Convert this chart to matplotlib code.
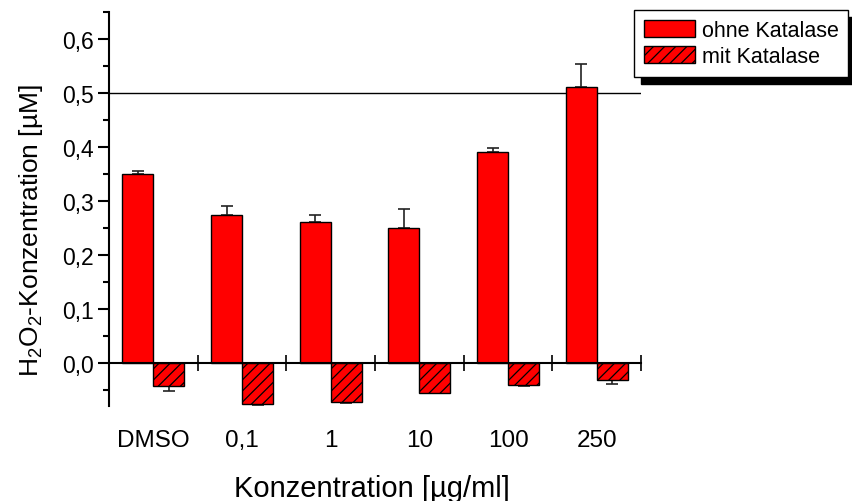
import numpy as np
import matplotlib
matplotlib.use('Agg')
import matplotlib.pyplot as plt
import matplotlib.transforms as mtransforms

plt.rcParams['font.family'] = ['Liberation Sans', 'DejaVu Sans']
plt.rcParams['mathtext.default'] = 'regular'
plt.rcParams['hatch.linewidth'] = 0.9

# Data
categories = ['DMSO', '0,1', '1', '10', '100', '250']
ohne = [0.349, 0.274, 0.261, 0.249, 0.390, 0.511]
ohne_err = [0.006, 0.017, 0.013, 0.035, 0.007, 0.043]
mit = [-0.044, -0.076, -0.074, -0.056, -0.041, -0.033]
mit_err = [0.008, 0.003, 0.001, 0.0, 0.002, 0.006]

fig = plt.figure(figsize=(8.53, 5.02), dpi=100)
ax = fig.add_axes([0.1278, 0.1892, 0.6237, 0.7849])

x = np.arange(len(categories)) + 0.5
w = 0.35

ax.bar(x - w / 2, ohne, w, color='#ff0000', edgecolor='black', linewidth=1,
       label='ohne Katalase', zorder=2)
ax.bar(x + w / 2, mit, w, color='#ff0000', edgecolor='black', linewidth=1,
       hatch='///', label='mit Katalase', zorder=2)

# one-sided error bars (Origin style)
ax.errorbar(x - w / 2, ohne, yerr=[np.zeros(len(ohne)), ohne_err], fmt='none',
            ecolor='#222222', elinewidth=1.2, capsize=4, capthick=1.2, zorder=1)
ax.errorbar(x + w / 2, mit, yerr=[mit_err, np.zeros(len(mit))], fmt='none',
            ecolor='#222222', elinewidth=1.2, capsize=4, capthick=1.2, zorder=1)

ax.axhline(0.5, color='black', linewidth=1, zorder=0)

ax.set_xlim(0, 6)
ax.set_ylim(-0.0806, 0.649)

# axes styling
for s in ['top', 'right']:
    ax.spines[s].set_visible(False)
ax.spines['left'].set_linewidth(1.5)
ax.spines['bottom'].set_position(('data', 0))
ax.spines['bottom'].set_linewidth(1.5)
ax.spines['bottom'].set_zorder(3)

yt = np.arange(0, 0.61, 0.1)
ax.set_yticks(yt)
ax.set_yticklabels([('%.1f' % v).replace('.', ',') for v in yt])
ax.set_yticks(np.arange(-0.05, 0.66, 0.1), minor=True)
ax.tick_params(axis='y', which='major', direction='out', length=8, width=1.5,
               labelsize=16.5, pad=3)
ax.tick_params(axis='y', which='minor', direction='out', length=4, width=1.5)

ax.set_xticks(np.arange(1, 7))
ax.set_xticklabels([])
ax.tick_params(axis='x', which='major', direction='inout', length=11, width=1.2)

# category labels below the plot
trans = mtransforms.blended_transform_factory(ax.transData, ax.transAxes)
for xi, c in zip(x, categories):
    ax.text(xi, -0.086, c, transform=trans, ha='center', va='center', fontsize=17.5)

fig.text(372 / 853, 1 - 489 / 502, 'Konzentration [µg/ml]', ha='center',
         va='center', fontsize=21)
fig.text(31 / 853, 1 - 231 / 502, 'H$_2$O$_2$-Konzentration [µM]', ha='center',
         va='center', rotation=90, fontsize=19)

leg = fig.legend(loc='upper left', bbox_to_anchor=(634 / 853, 1 - 11 / 502),
                 fontsize=15.5, frameon=True, fancybox=False, framealpha=1,
                 edgecolor='black', borderpad=0.45, handlelength=2.4,
                 handleheight=0.85, handletextpad=0.3, labelspacing=0.25,
                 borderaxespad=0,
                 shadow={'color': 'black', 'alpha': 1, 'ox': 5, 'oy': -5})
leg.get_frame().set_linewidth(1)

fig.savefig('out.png', dpi=100)
